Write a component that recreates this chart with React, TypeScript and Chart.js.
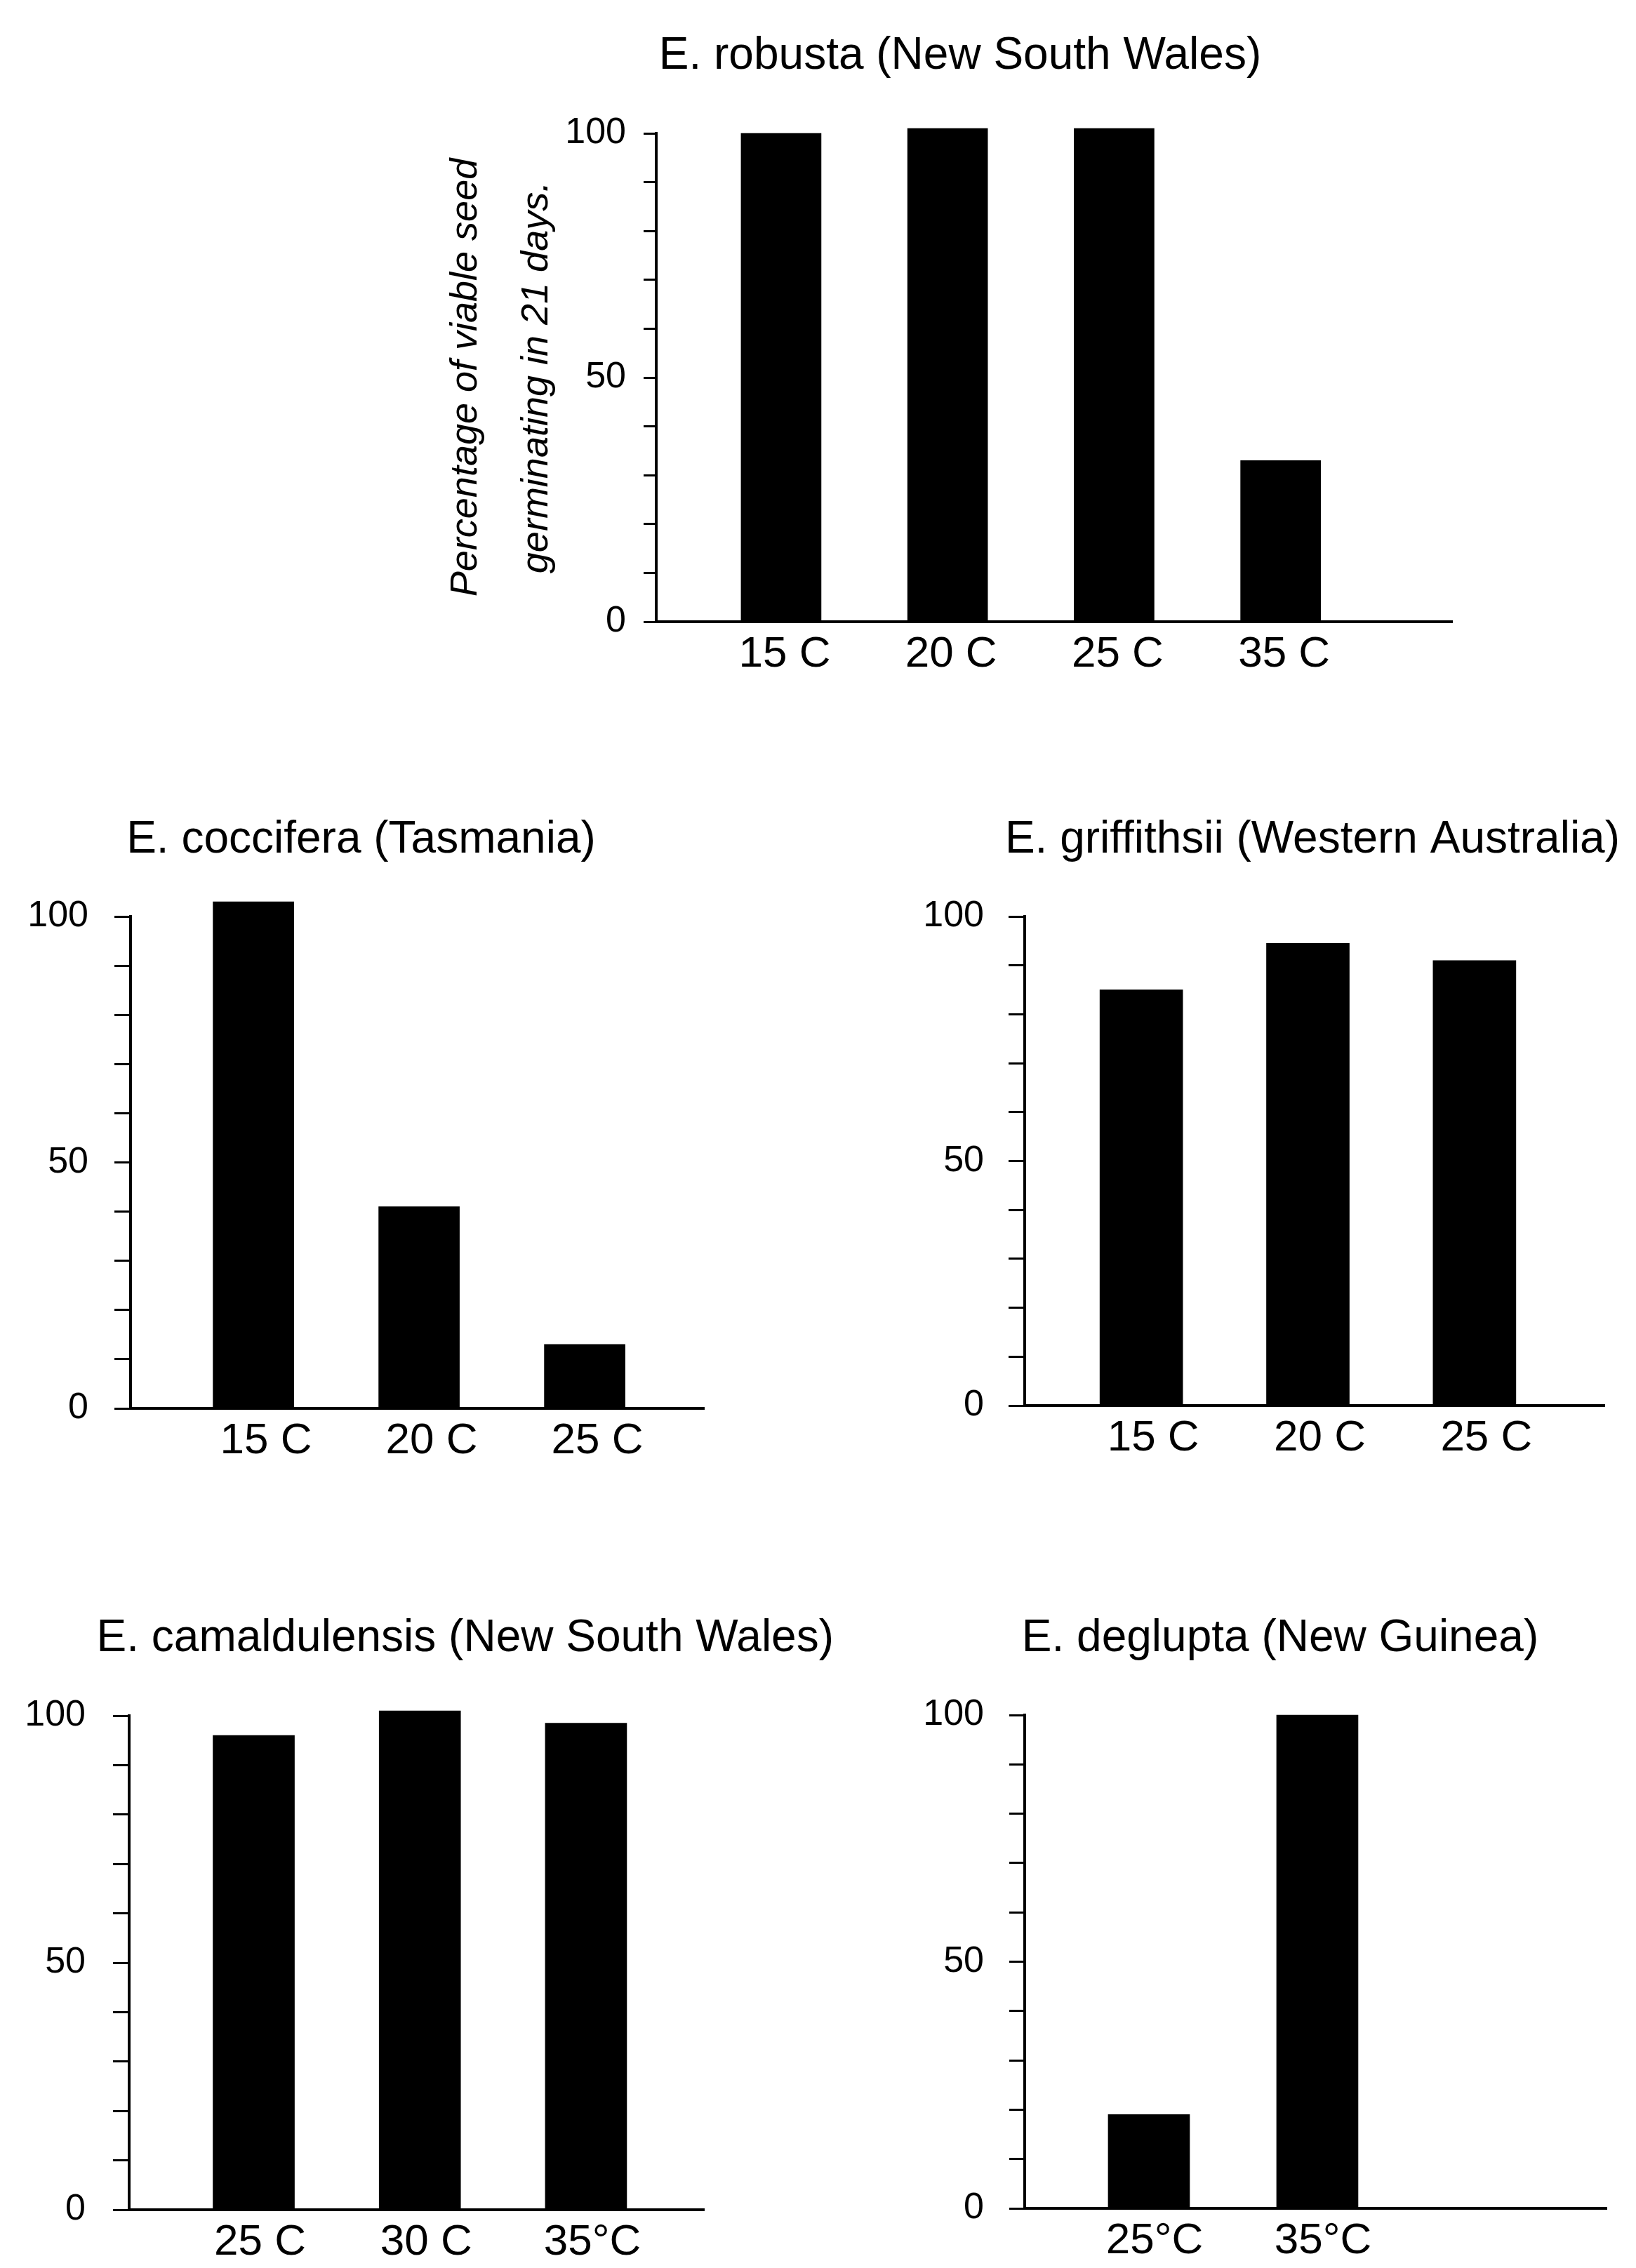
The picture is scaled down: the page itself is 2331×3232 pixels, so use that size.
import React, { useEffect, useRef } from 'react';
import { Chart, registerables } from 'chart.js';

Chart.register(...registerables);

const FONT = "'Liberation Sans', Arial, Helvetica, sans-serif";

// ---------- DATA ----------
const robustaTitle = 'E. robusta (New South Wales)';
const robustaTemps = ['15 C', '20 C', '25 C', '35 C'];
const robustaGermination = [100, 101, 101, 33];

const cocciferaTitle = 'E. coccifera (Tasmania)';
const cocciferaTemps = ['15 C', '20 C', '25 C'];
const cocciferaGermination = [103, 41, 13];

const griffithsiiTitle = 'E. griffithsii (Western Australia)';
const griffithsiiTemps = ['15 C', '20 C', '25 C'];
const griffithsiiGermination = [85, 94.5, 91];

const camaldulensisTitle = 'E. camaldulensis (New South Wales)';
const camaldulensisTemps = ['25 C', '30 C', '35°C'];
const camaldulensisGermination = [96, 101, 98.5];

const degluptaTitle = 'E. deglupta (New Guinea)';
const degluptaTemps = ['25°C', '35°C'];
const degluptaGermination = [19, 100];

const yLabelledTicks = [0, 50, 100];
const yAxisTitle = ['Percentage of viable seed', 'germinating in 21 days.'];

// ---------- LAYOUT (positions / sizes only) ----------
type Layout = {
  left: number; top: number; width: number; height: number;
  padLeft: number; padRight: number; padBottom: number;
  yWidth: number; rightWidth: number; xHeight: number;
  titleAlign: 'start' | 'center' | 'end';
  titlePadTop: number; titlePadBottom: number;
  xMin: number; xMax: number;
  barThickness: number; tickLength: number; yPad: number; xLabelOffset: number;
};

const layoutRobusta: Layout = {
  left: 500, top: 0, width: 1700, height: 1060,
  padLeft: 113, padRight: 77, padBottom: 104, yWidth: 322, rightWidth: 54, xHeight: 70,
  titleAlign: 'center', titlePadTop: 41.6, titlePadBottom: 71.6,
  xMin: 0.25, xMax: 5.03, barThickness: 114, tickLength: 18, yPad: 25, xLabelOffset: 5,
};
const layoutCoccifera: Layout = {
  left: 0, top: 1100, width: 1100, height: 1050,
  padLeft: 20, padRight: 91, padBottom: 73, yWidth: 166, rightWidth: 6, xHeight: 70,
  titleAlign: 'center', titlePadTop: 58.6, titlePadBottom: 70.6,
  xMin: 0.258, xMax: 3.72, barThickness: 115, tickLength: 23, yPad: 37, xLabelOffset: 18,
};
const layoutGriffithsii: Layout = {
  left: 1150, top: 1100, width: 1181, height: 1050,
  padLeft: 150, padRight: 23, padBottom: 77, yWidth: 160, rightWidth: 22, xHeight: 70,
  titleAlign: 'end', titlePadTop: 58.6, titlePadBottom: 70.6,
  xMin: 0.3, xMax: 3.78, barThickness: 118, tickLength: 23, yPad: 35, xLabelOffset: 17,
};
const layoutCamaldulensis: Layout = {
  left: 0, top: 2200, width: 1200, height: 1032,
  padLeft: 20, padRight: 12, padBottom: 13, yWidth: 164, rightWidth: 185, xHeight: 70,
  titleAlign: 'end', titlePadTop: 96.6, titlePadBottom: 71.6,
  xMin: 0.25, xMax: 3.71, barThickness: 116, tickLength: 23, yPad: 39, xLabelOffset: 9,
};
const layoutDeglupta: Layout = {
  left: 1290, top: 2200, width: 1050, height: 1032,
  padLeft: 20, padRight: 2, padBottom: 15, yWidth: 150, rightWidth: 49, xHeight: 70,
  titleAlign: 'center', titlePadTop: 96.6, titlePadBottom: 70.6,
  xMin: 0.2625, xMax: 3.717, barThickness: 116, tickLength: 22, yPad: 36, xLabelOffset: 8,
};

type PanelProps = {
  title: string;
  labels: string[];
  values: number[];
  layout: Layout;
  yTitle?: string[];
};

function Panel({ title, labels, values, layout: L, yTitle }: PanelProps) {
  const ref = useRef<HTMLCanvasElement | null>(null);

  useEffect(() => {
    if (!ref.current) return;
    const chart = new Chart(ref.current, {
      type: 'bar',
      data: {
        datasets: [
          {
            data: values.map((v, i) => ({ x: i + 1, y: v })),
            backgroundColor: '#000',
            borderWidth: 0,
            barThickness: L.barThickness,
            clip: false,
            xAxisID: 'x',
            yAxisID: 'y',
          } as any,
        ],
      },
      options: {
        responsive: false,
        maintainAspectRatio: false,
        animation: false,
        events: [],
        layout: { padding: { left: L.padLeft, right: L.padRight, top: 0, bottom: L.padBottom } },
        plugins: {
          legend: { display: false },
          tooltip: { enabled: false },
          title: {
            display: true,
            text: title,
            align: L.titleAlign,
            fullSize: true,
            color: '#000',
            font: { family: FONT, size: 64, weight: 'normal', lineHeight: 1.2 },
            padding: { top: L.titlePadTop, bottom: L.titlePadBottom },
          },
        },
        scales: {
          x: {
            type: 'linear',
            min: L.xMin,
            max: L.xMax,
            offset: false,
            bounds: 'data',
            afterBuildTicks: (axis: any) => {
              axis.ticks = labels.map((_, i) => ({ value: i + 1 }));
            },
            afterFit: (axis: any) => {
              axis.height = L.xHeight;
            },
            grid: { display: false, offset: false, drawTicks: false },
            border: { display: true, color: '#000', width: 4 },
            ticks: {
              autoSkip: false,
              maxRotation: 0,
              minRotation: 0,
              padding: 10,
              labelOffset: L.xLabelOffset,
              color: '#000',
              font: { family: FONT, size: 62 },
              callback: (value: any) => labels[Math.round(Number(value)) - 1] ?? '',
            },
          },
          y: {
            type: 'linear',
            position: 'left',
            min: 0,
            max: 100,
            afterFit: (axis: any) => {
              axis.width = L.yWidth;
            },
            grid: {
              display: true,
              drawOnChartArea: false,
              drawTicks: true,
              tickLength: L.tickLength,
              color: '#000',
              lineWidth: 3,
            },
            border: { display: true, color: '#000', width: 4 },
            ticks: {
              stepSize: 10,
              autoSkip: false,
              padding: L.yPad,
              color: '#000',
              font: { family: FONT, size: 52 },
              callback: (v: any) => (yLabelledTicks.includes(Number(v)) ? String(v) : ''),
            },
            title: yTitle
              ? {
                  display: true,
                  text: yTitle,
                  align: 'center',
                  color: '#000',
                  font: { family: FONT, size: 54, style: 'italic', lineHeight: 1.88 },
                  padding: { top: 0, bottom: 0 },
                }
              : { display: false },
          },
          // empty right-hand spacer axis (keeps the panel title aligned as in the original)
          ySpacer: {
            type: 'linear',
            position: 'right',
            display: true,
            afterFit: (axis: any) => {
              axis.width = L.rightWidth;
            },
            grid: { display: false },
            border: { display: false },
            ticks: { display: false },
            title: { display: false },
          },
        },
      } as any,
    });
    return () => chart.destroy();
  }, []);

  return (
    <canvas
      ref={ref}
      width={L.width}
      height={L.height}
      style={{ position: 'absolute', left: L.left, top: L.top, width: L.width, height: L.height }}
    />
  );
}

export default function App() {
  useEffect(() => {
    document.body.style.margin = '0';
    document.body.style.background = '#fff';
  }, []);

  return (
    <div style={{ position: 'absolute', left: 0, top: 0, width: 2331, height: 3232, background: '#fff', overflow: 'hidden' }}>
      <Panel title={robustaTitle} labels={robustaTemps} values={robustaGermination} layout={layoutRobusta} yTitle={yAxisTitle} />
      <Panel title={cocciferaTitle} labels={cocciferaTemps} values={cocciferaGermination} layout={layoutCoccifera} />
      <Panel title={griffithsiiTitle} labels={griffithsiiTemps} values={griffithsiiGermination} layout={layoutGriffithsii} />
      <Panel title={camaldulensisTitle} labels={camaldulensisTemps} values={camaldulensisGermination} layout={layoutCamaldulensis} />
      <Panel title={degluptaTitle} labels={degluptaTemps} values={degluptaGermination} layout={layoutDeglupta} />
    </div>
  );
}
